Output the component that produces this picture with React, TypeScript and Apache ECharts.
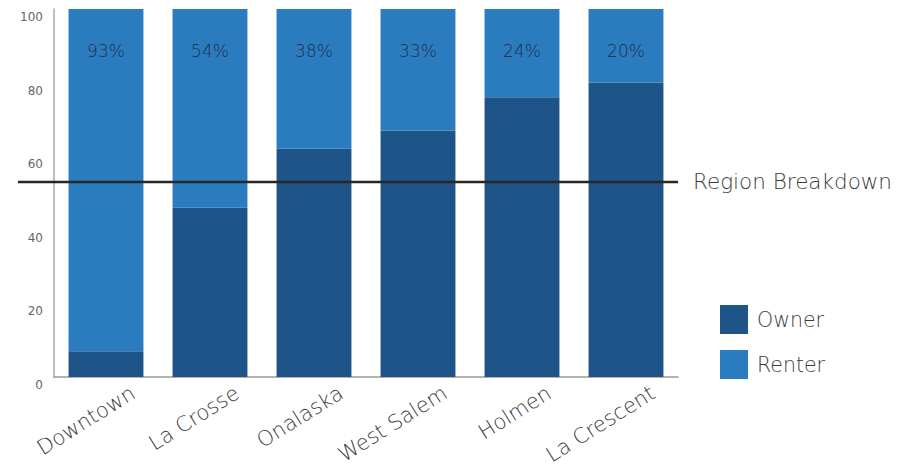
import React, { useEffect, useRef } from "react";
import * as echarts from "echarts";

const categories = ["Downtown", "La Crosse", "Onalaska", "West Salem", "Holmen", "La Crescent"];
const ownerValues = [7, 46, 62, 67, 76, 80];
const renterValues = [93, 54, 38, 33, 24, 20];
const renterLabels = ["93%", "54%", "38%", "33%", "24%", "20%"];
const yMin = 0;
const yMax = 100;
const yInterval = 20;
const regionValue = 53;
const regionLabel = "Region Breakdown";

const FONT = "'DejaVu Sans', sans-serif";
const W = 922;
const H = 470;
const GRID = { left: 54, right: 244, top: 9, bottom: 93 };

export default function App() {
  const ref = useRef<HTMLDivElement>(null);
  useEffect(() => {
    document.body.style.margin = "0";
    if (!ref.current) return;
    const chart = echarts.init(ref.current, null, { renderer: "svg" });
    chart.setOption({
      animation: false,
      backgroundColor: "#ffffff",
      textStyle: { fontFamily: FONT, fontWeight: 200 },
      grid: { ...GRID, containLabel: false },
      legend: {
        orient: "vertical",
        left: 720,
        top: 305,
        padding: 0,
        itemWidth: 28,
        itemHeight: 29,
        itemGap: 16,
        icon: "rect",
        textStyle: { fontSize: 20.5, color: "#3a3a3a", fontFamily: FONT, fontWeight: 200, padding: [0, 0, 0, 4] },
        data: ["Owner", "Renter"],
      },
      xAxis: {
        type: "category",
        data: categories,
        axisLine: { lineStyle: { color: "#999", width: 1.5 } },
        axisTick: { show: false },
        axisLabel: {
          interval: 0,
          rotate: 32,
          margin: 31,
          fontSize: 21,
          color: "#3a3a3a",
          fontFamily: FONT,
          fontWeight: 200,
          padding: [0, -32, 0, 0],
        },
      },
      yAxis: {
        type: "value",
        min: yMin,
        max: yMax,
        interval: yInterval,
        axisLine: { show: true, lineStyle: { color: "#aaa", width: 1.5 } },
        axisTick: { show: false },
        splitLine: { show: false },
        axisLabel: {
          fontSize: 12,
          color: "#666",
          margin: 11,
          verticalAlign: "top",
          padding: [2, 0, 0, 0],
          fontFamily: FONT,
          fontWeight: "normal",
        },
      },
      series: [
        {
          name: "Owner",
          type: "bar",
          stack: "total",
          data: ownerValues,
          barCategoryGap: "28%",
          itemStyle: { color: "#1f5489" },
        },
        {
          name: "Renter",
          type: "bar",
          stack: "total",
          data: renterValues,
          barCategoryGap: "28%",
          itemStyle: { color: "#2b7bbf" },
          label: {
            show: true,
            position: "insideTop",
            distance: 33,
            fontSize: 17,
            color: "rgba(30,35,55,0.9)",
            fontFamily: FONT,
            fontWeight: 200,
            formatter: (p: any) => renterLabels[p.dataIndex],
          },
        },
      ],
    });
    const y = chart.convertToPixel({ yAxisIndex: 0 }, regionValue) as number;
    const xEnd = W - GRID.right;
    chart.setOption({
      graphic: [
        {
          type: "line",
          shape: { x1: 18, y1: y, x2: xEnd, y2: y },
          style: { stroke: "#262626", lineWidth: 2.5 },
          z: 100,
        },
        {
          type: "text",
          x: 693,
          y: y,
          style: {
            text: regionLabel,
            fontSize: 21.5,
            fill: "#3a3a3a",
            fontFamily: FONT,
            fontWeight: 200,
            verticalAlign: "middle",
            align: "left",
          },
          z: 100,
        },
      ],
    });
    return () => chart.dispose();
  }, []);
  return <div ref={ref} style={{ width: W, height: H }} />;
}
